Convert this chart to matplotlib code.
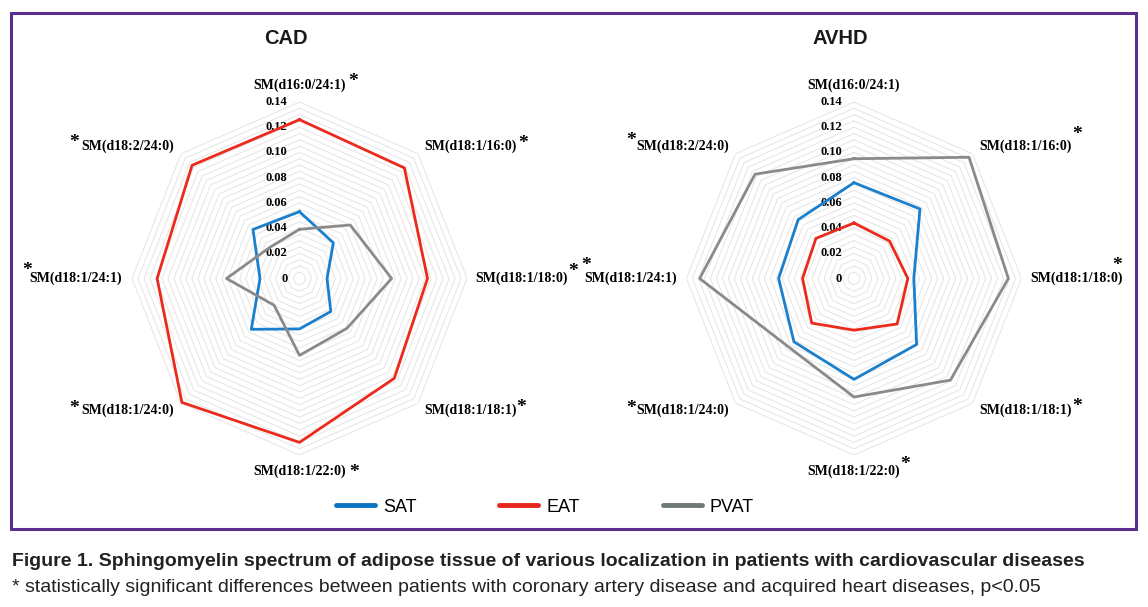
import numpy as np
import matplotlib
matplotlib.use("Agg")
import matplotlib.pyplot as plt
from matplotlib.lines import Line2D
from matplotlib.patches import Rectangle
from matplotlib.transforms import offset_copy

categories = ['SM(d16:0/24:1)', 'SM(d18:1/16:0)', 'SM(d18:1/18:0)', 'SM(d18:1/18:1)',
              'SM(d18:1/22:0)', 'SM(d18:1/24:0)', 'SM(d18:1/24:1)', 'SM(d18:2/24:0)']
series_names = ['SAT', 'EAT', 'PVAT']

cad_sat = [0.053, 0.040, 0.023, 0.037, 0.040, 0.057, 0.033, 0.055]
cad_eat = [0.126, 0.124, 0.107, 0.112, 0.130, 0.139, 0.119, 0.127]
cad_pvat = [0.039, 0.060, 0.077, 0.056, 0.061, 0.030, 0.061, 0.035]

avhd_sat = [0.076, 0.078, 0.050, 0.074, 0.080, 0.071, 0.063, 0.066]
avhd_eat = [0.044, 0.042, 0.045, 0.051, 0.041, 0.050, 0.043, 0.045]
avhd_pvat = [0.095, 0.136, 0.129, 0.114, 0.094, 0.077, 0.129, 0.117]

cad_stars = [True, True, True, True, True, True, True, True]
avhd_stars = [False, True, True, True, True, True, True, True]

r_ticks = [0, 0.02, 0.04, 0.06, 0.08, 0.10, 0.12, 0.14]

colors = ['#1a7fcc', '#ec2a1c', '#8a8a8a']
legend_colors = ['#0a72c2', '#e8251b', '#6e7a78']

# label placement: radius, ha per spoke
lab_r = [0.153, 0.148, 0.147, 0.148, 0.153, 0.148, 0.148, 0.148]
lab_ha = ['center', 'left', 'left', 'left', 'center', 'right', 'right', 'right']
# star offsets in px: (side, dx, up) relative to label edge / centre line
cad_star_pos = [('r', 7, 10), ('r', 6, 9), ('r', 5, 13), ('r', 4, 9),
                ('r', 8, 5), ('l', -8, 8), ('l', -3, 14), ('l', -7, 10)]
avhd_star_pos = [None, ('r', 5, 18), ('r', -5, 19), ('r', 5, 10),
                 ('r', 5, 13), ('l', -5, 8), ('l', 2, 19), ('l', -5, 12)]

W, H = 1148, 607
fig = plt.figure(figsize=(W / 100, H / 100), dpi=100)

theta = np.linspace(0, 2 * np.pi, len(categories), endpoint=False)
theta_c = np.append(theta, theta[0])


def radar(left_px, title, data, stars, star_pos):
    ax = fig.add_axes([left_px / W, 1 - 455 / H, 335 / W, 353 / H], projection='polar')
    ax.set_aspect('auto')
    ax.set_theta_zero_location('N')
    ax.set_theta_direction(-1)
    ax.set_ylim(0, 0.14)
    ax.set_xticks([])
    ax.set_yticks([])
    ax.grid(False)
    ax.spines['polar'].set_visible(False)
    ax.patch.set_alpha(0)

    for lev in np.arange(0.005, 0.1401, 0.005):
        ax.plot(theta_c, [lev] * len(theta_c), color='#e4e4e4', lw=0.7, zorder=1)

    for vals, c in zip(data, colors):
        ax.plot(theta_c, vals + vals[:1], color=c, lw=2.0, zorder=3, clip_on=False)

    tick_tr = offset_copy(ax.transData, fig=fig, x=-12, y=0, units='dots')
    for v in r_ticks:
        lbl = '0' if v == 0 else '%.2f' % v
        ax.text(0, v, lbl, transform=tick_tr, ha='right', va='center',
                family='Liberation Serif', weight='bold', fontsize=9, zorder=2)

    for i, cat in enumerate(categories):
        t = ax.text(theta[i], lab_r[i], cat, ha=lab_ha[i], va='center',
                    family='Liberation Serif', weight='bold', fontsize=10)
        if stars[i]:
            side, dx, up = star_pos[i]
            ax.annotate('*', xy=(1 if side == 'r' else 0, 0.5), xycoords=t,
                        xytext=(dx * 0.72, (up - 6) * 0.72), textcoords='offset points',
                        ha='center', va='center', family='Liberation Serif',
                        weight='bold', fontsize=14)

    ax.text(0.46, 1.18, title, transform=ax.transAxes, ha='center', va='center',
            family='Liberation Sans', weight='bold', fontsize=14.5, color='#1a1a1a')
    return ax


radar(132, 'CAD', [cad_sat, cad_eat, cad_pvat], cad_stars, cad_star_pos)
radar(686.5, 'AVHD', [avhd_sat, avhd_eat, avhd_pvat], avhd_stars, avhd_star_pos)

handles = [Line2D([0], [0], color=c, lw=3.5, solid_capstyle='round') for c in legend_colors]
fig.legend(handles, series_names, loc='center', bbox_to_anchor=(545 / W, 1 - 507 / H),
           ncol=3, frameon=False, prop={'family': 'Liberation Sans', 'size': 13},
           handlelength=2.15, handletextpad=0.45, columnspacing=4.6, borderpad=0)

fig.patches.append(Rectangle((11 / W, 1 - 529 / H), 1125 / W, 516 / H, fill=False,
                             edgecolor='#5c2d91', lw=2.2, transform=fig.transFigure))

fig.text(12 / W, 1 - 562 / H,
         'Figure 1. Sphingomyelin spectrum of adipose tissue of various localization in patients with cardiovascular diseases',
         ha='left', va='center', family='Liberation Sans', weight='bold', fontsize=14, color='#222222')
fig.text(12 / W, 1 - 587 / H,
         '* statistically significant differences between patients with coronary artery disease and acquired heart diseases, p<0.05',
         ha='left', va='center', family='Liberation Sans', fontsize=14, color='#222222')

fig.savefig('out.png', dpi=100)
